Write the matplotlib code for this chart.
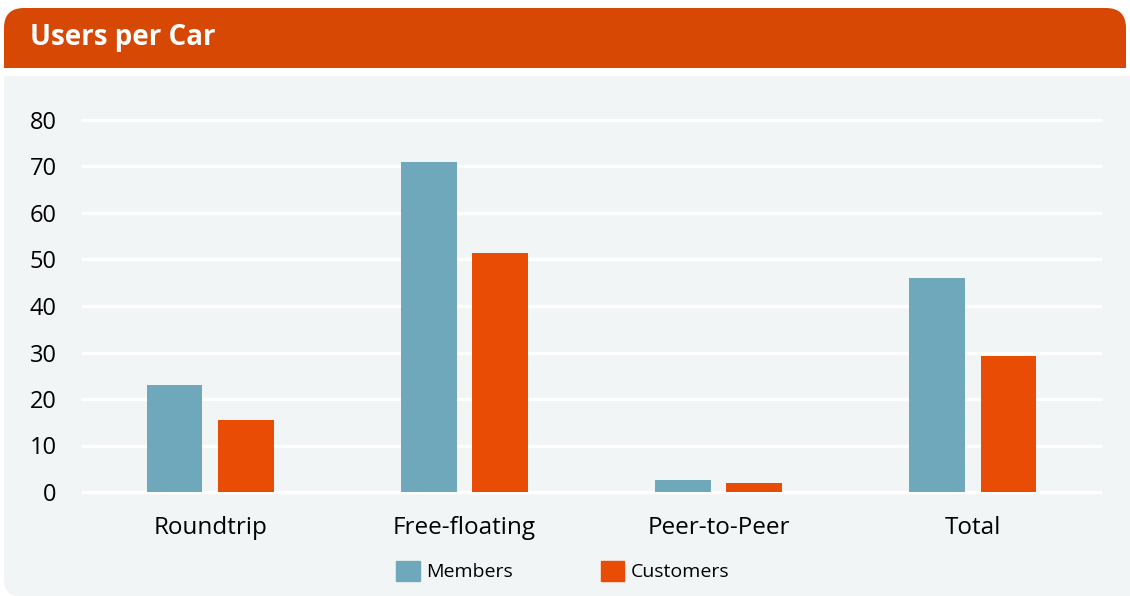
import matplotlib
matplotlib.use("Agg")
import matplotlib.pyplot as plt
import numpy as np
from matplotlib.patches import FancyBboxPatch, Rectangle, Patch
from matplotlib.transforms import IdentityTransform

categories = ["Roundtrip", "Free-floating", "Peer-to-Peer", "Total"]
members = [23.0, 71.0, 2.6, 46.0]
customers = [15.5, 51.4, 1.9, 29.2]
yticks = [0, 10, 20, 30, 40, 50, 60, 70, 80]

blue = "#6FA8BB"
orange = "#E84C05"
header = "#D64804"
panel = "#F2F5F5"

plt.rcParams["font.family"] = ["Open Sans", "DejaVu Sans"]

W, H = 1130, 596
fig = plt.figure(figsize=(W / 100, H / 100), dpi=100)
fig.patch.set_facecolor("white")
px = IdentityTransform()


def fx(v):
    return v / W


def fy(v):
    return 1 - v / H


def box(x0, y0, x1, y1, color, radius, z):
    # pixel box measured from the top-left corner of the figure
    p = FancyBboxPatch((x0, H - y1), x1 - x0, y1 - y0,
                       boxstyle=f"round,pad=0,rounding_size={radius}",
                       transform=px, facecolor=color, edgecolor="none", zorder=z)
    fig.patches.append(p)


def rect(x0, y0, x1, y1, color, z):
    fig.patches.append(Rectangle((x0, H - y1), x1 - x0, y1 - y0, transform=px,
                                 facecolor=color, edgecolor="none", zorder=z))


# gray body, rounded bottom corners
box(4, 76, 1150, 596, panel, 16, 0)
rect(4, 76, 1150, 120, panel, 0)

# orange title bar, rounded top corners
box(4, 8, 1126, 68, header, 20, 0)
rect(4, 40, 1126, 68, header, 0)
fig.text(fx(30), fy(38), "Users per Car", color="white", fontsize=20,
         fontweight="bold", va="center", ha="left")

ax = fig.add_axes([fx(83), fy(492), fx(1100 - 83), fy(120) - fy(492)])
ax.set_facecolor("none")
ax.set_zorder(5)

x = np.arange(len(categories))
w = 0.22
off = 0.14
ax.bar(x - off, members, w, color=blue, zorder=3)
ax.bar(x + off, customers, w, color=orange, zorder=3)

ax.set_xlim(-0.5, 3.5)
ax.set_ylim(0, 80)
ax.set_yticks(yticks)
ax.set_xticks(x)
ax.set_xticklabels(categories, fontsize=17.5)
ax.tick_params(axis="y", length=0, pad=19, labelsize=17)
ax.tick_params(axis="x", length=0, pad=17)
for s in ax.spines.values():
    s.set_visible(False)
ax.yaxis.grid(True, color="white", linewidth=2.4, zorder=1)
ax.set_axisbelow(True)
for g in ax.get_ygridlines():
    g.set_clip_on(False)

handles = [Patch(color=blue, label="Members"), Patch(color=orange, label="Customers")]
fig.legend(handles=handles, loc="center", bbox_to_anchor=(fx(563), fy(571)),
           ncol=2, frameon=False, fontsize=14, handlelength=1.2,
           handleheight=1.2, handletextpad=0.35, columnspacing=4.5)

fig.savefig("out.png", dpi=100, facecolor="white")
